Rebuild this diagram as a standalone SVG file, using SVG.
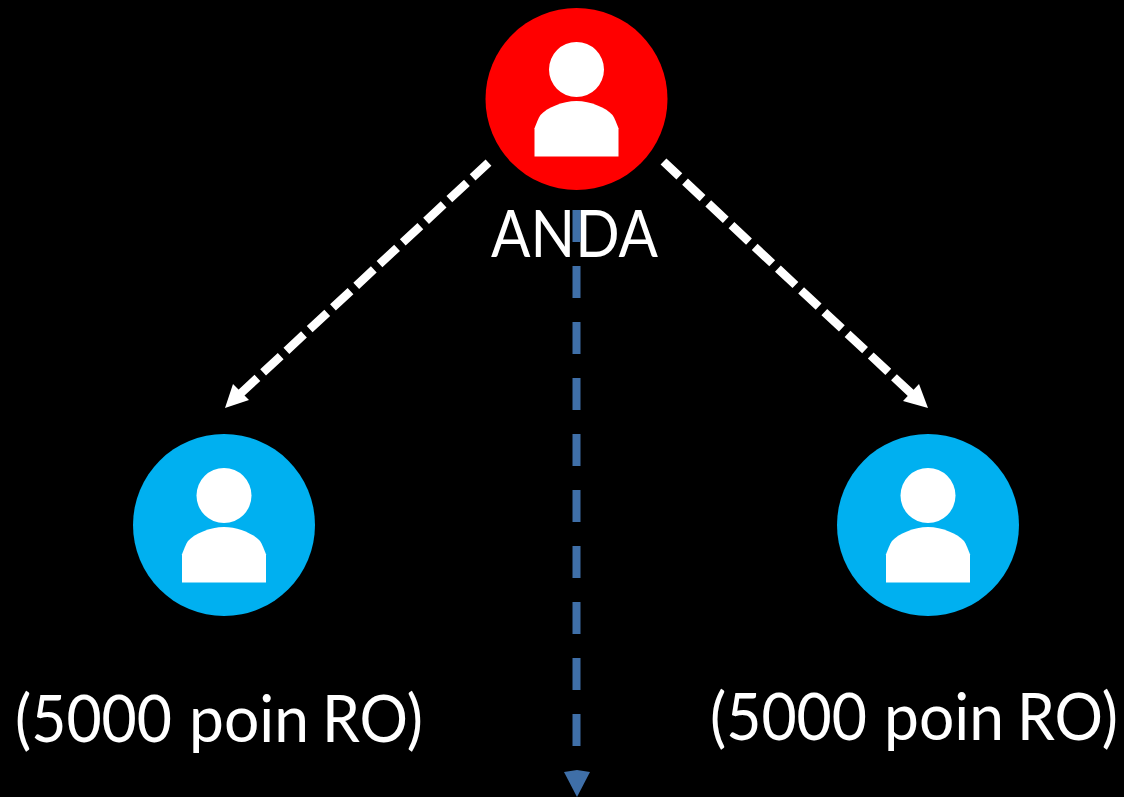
<svg xmlns="http://www.w3.org/2000/svg" width="1124" height="797" viewBox="0 0 1124 797">
<defs>
<style>
.label{font-family:"Lato","Open Sans",sans-serif;font-size:65px;fill:#fff}
.icon{fill:#fff}
.white{stroke:#fff;stroke-width:8.500;stroke-dasharray:24 7.800;stroke-dashoffset:2.300;fill:none}
.blue{stroke:#3f6fa8;stroke-width:8;stroke-dasharray:32 24;fill:none}
</style>
<g id="person">
<circle class="icon" cx="0" cy="-29.500" r="27.500"/>
<path class="icon" d="M-42 57.500V29.300C-40 24-38 19-36 16-30 9-14 2 0 2S30 9 36 16C38 19 40 24 42 29.300V57.500Z"/>
</g>
</defs>
<rect width="1124" height="797" fill="#000"/>
<g id="connectors">
<path class="white" d="M488.500 162.700L240 394"/>
<path class="white" d="M663.500 161.500L914 396"/>
<path class="blue" d="M576.500 266V770"/>
<polygon fill="#fff" points="225,408 233,384 249,400"/>
<polygon fill="#fff" points="928,408 919,384 903,401"/>
<polygon fill="#3f6fa8" points="564,772 577,770 590,772 577,797"/>
</g>
<g id="anda">
<circle cx="576.500" cy="99" r="91" fill="#f00"/>
<use href="#person" x="576.500" y="99"/>
<text class="label" x="491" y="257" textLength="167" lengthAdjust="spacingAndGlyphs">ANDA</text>
</g>
<path class="blue" d="M576.500 210V242"/>
<g id="left-node">
<circle cx="224" cy="525" r="91" fill="#00b0f0"/>
<use href="#person" x="224" y="525"/>
<text class="label" y="742"><tspan x="15" textLength="157" lengthAdjust="spacingAndGlyphs">(5000</tspan> <tspan x="189" textLength="120" lengthAdjust="spacingAndGlyphs">poin</tspan> <tspan x="322" textLength="101" lengthAdjust="spacingAndGlyphs">RO)</tspan></text>
</g>
<g id="right-node">
<circle cx="928" cy="525" r="91" fill="#00b0f0"/>
<use href="#person" x="928" y="525"/>
<text class="label" y="740"><tspan x="710" textLength="157" lengthAdjust="spacingAndGlyphs">(5000</tspan> <tspan x="884" textLength="120" lengthAdjust="spacingAndGlyphs">poin</tspan> <tspan x="1017" textLength="101" lengthAdjust="spacingAndGlyphs">RO)</tspan></text>
</g>
</svg>
